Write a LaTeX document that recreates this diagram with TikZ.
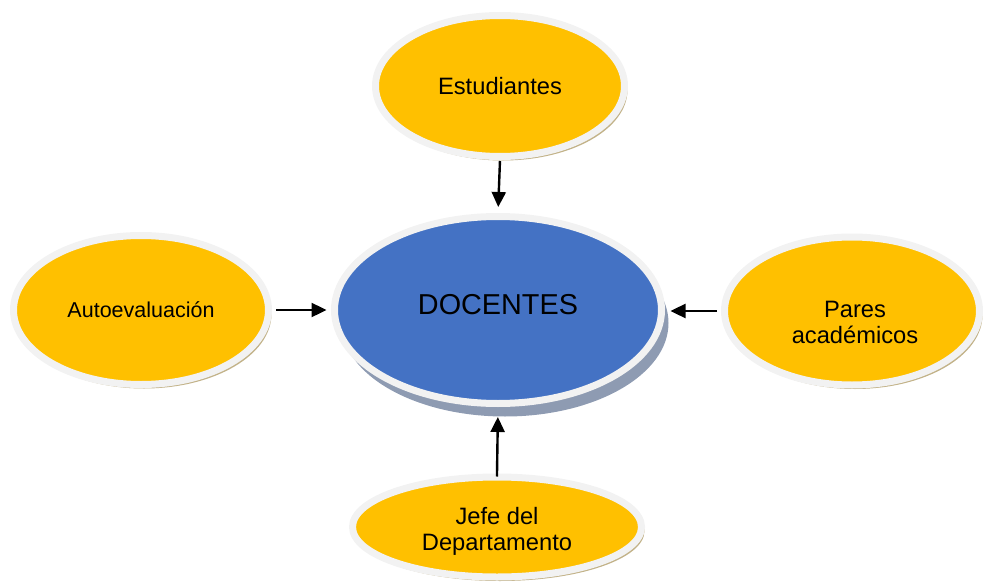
\documentclass[tikz,border=0pt]{standalone}
\usepackage{fontspec}
\setmainfont{Liberation Sans}
\usetikzlibrary{shapes.geometric,shadows,arrows.meta}
\definecolor{goldfill}{HTML}{FFC000}
\definecolor{bluefill}{HTML}{4472C4}
\definecolor{rimcol}{HTML}{F2F2F2}
\definecolor{tanshadow}{HTML}{C2B288}
\definecolor{greyshadow}{HTML}{8E9BB2}
\tikzset{
  bubble/.style={ellipse, fill=goldfill, draw=rimcol, line width=7pt, inner sep=0pt,
    align=center, font=\fontsize{23.7}{26}\selectfont,
    drop shadow={shadow xshift=3pt, shadow yshift=-4pt, fill=tanshadow, opacity=1}},
  centerbubble/.style={ellipse, fill=bluefill, draw=rimcol, line width=7pt, inner sep=0pt,
    drop shadow={shadow xshift=7pt, shadow yshift=-13pt, fill=greyshadow, opacity=1}},
  bubbletext/.style={inner sep=0pt, align=center, font=\fontsize{23.7}{26}\selectfont},
  conn/.style={line width=2.4pt, -{Triangle[length=15pt,width=14pt]}}
}
\begin{document}
\begin{tikzpicture}[x=1pt,y=-1pt]
\useasboundingbox (0,0) rectangle (983,586);
\node[centerbubble, minimum width=327pt, minimum height=187pt] (doc) at (498,310) {};
\node[inner sep=0pt, font=\fontsize{28.8}{32}\selectfont] (doct) at (498,305) {DOCENTES};
\node[bubble, minimum width=249pt, minimum height=141pt] (est) at (500,86) {Estudiantes};
\node[bubble, minimum width=255pt, minimum height=149pt, font=\fontsize{21.5}{24}\selectfont] (auto) at (141,310) {Autoevaluación};
\node[bubble, minimum width=255pt, minimum height=148pt] (par) at (852,311) {};
\node[bubbletext] (part) at (855,322) {Pares\\académicos};
\node[bubble, minimum width=289pt, minimum height=100pt] (jefe) at (497,527) {};
\node[bubbletext] (jefet) at (497,531) {Jefe del\\Departamento};
\draw[conn, shorten <=1pt, shorten >=6pt] (est.south) -- (doc.north);
\draw[conn, shorten <=4pt, shorten >=4.5pt] (auto.east) -- (auto.east -| doc.west);
\draw[conn, shorten <=4pt, shorten >=5.5pt] (par.west) -- (par.west -| doc.east);
\draw[conn, shorten <=-3pt, shorten >=10pt] (jefe.north) -- (doc.south);
\end{tikzpicture}
\end{document}
